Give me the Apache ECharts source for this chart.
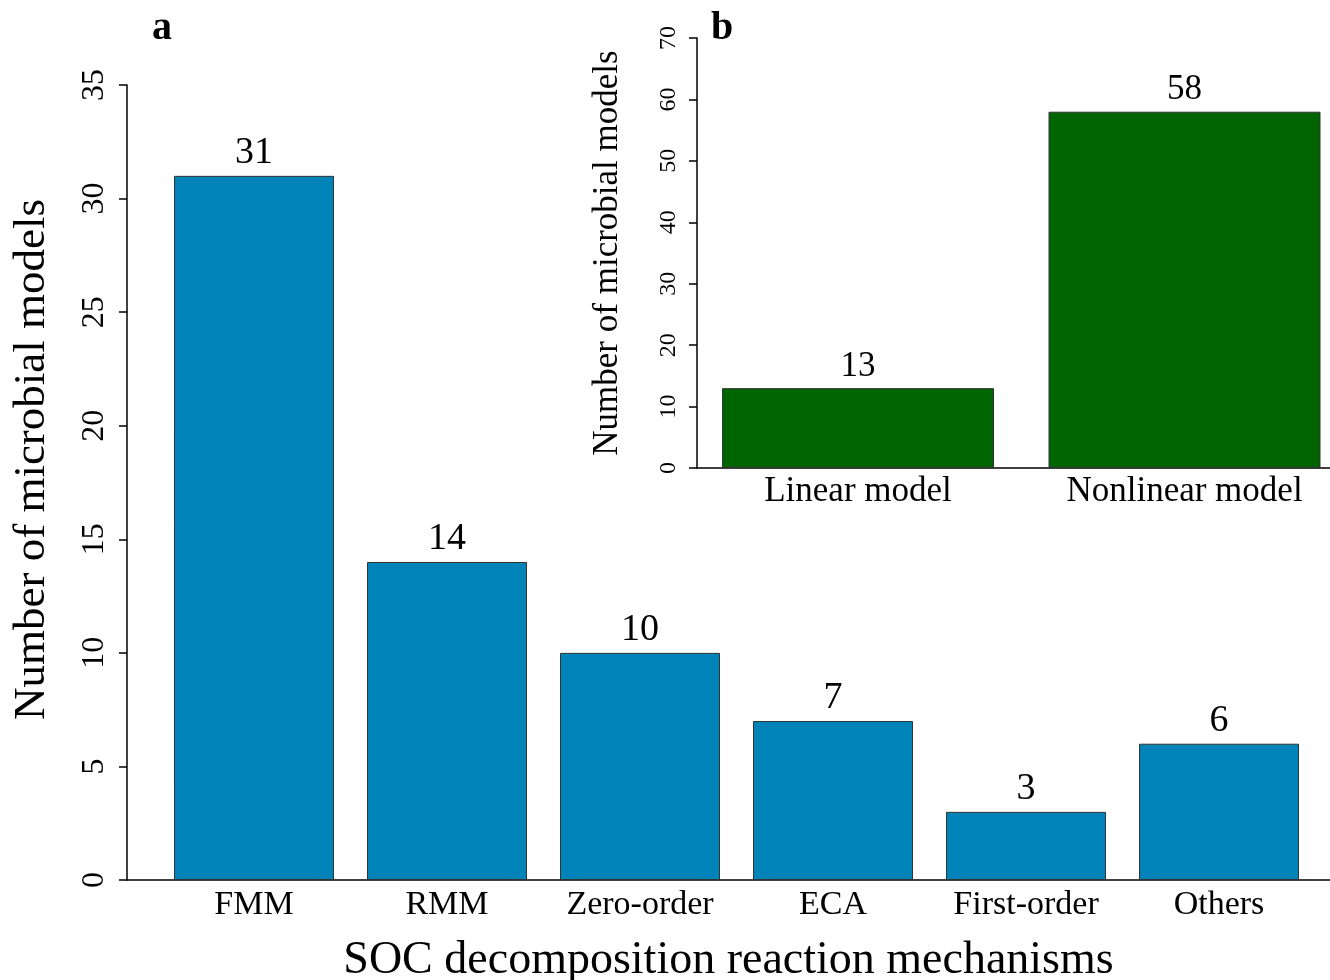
<!DOCTYPE html>
<html>
<head>
<meta charset="utf-8">
<script src="https://cdn.jsdelivr.net/npm/echarts@6/dist/echarts.min.js"></script>
<style>
html,body{margin:0;padding:0;background:#fff;overflow:hidden;}
#chart{width:1330px;height:980px;}
</style>
</head>
<body>
<div id="chart"></div>
<script>
// Panel a data
const mechCategories = ['FMM', 'RMM', 'Zero-order', 'ECA', 'First-order', 'Others'];
const mechCounts = [31, 14, 10, 7, 3, 6];
const mechTicks = [0, 5, 10, 15, 20, 25, 30, 35];
// Panel b data
const typeCategories = ['Linear model', 'Nonlinear model'];
const typeCounts = [13, 58];
const typeTicks = [0, 10, 20, 30, 40, 50, 60, 70];

const FONT = '"Liberation Serif", "Times New Roman", "DejaVu Serif", serif';
const BLUE = '#0083b8';
const GREEN = '#006400';

const chart = echarts.init(document.getElementById('chart'), null, {renderer: 'canvas', width: 1330, height: 980});

const mechData = mechCounts.map((v, i) => [i, v]);
const typeData = typeCounts.map((v, i) => [i, v]);

const option = {
  backgroundColor: '#fff',
  animation: false,
  textStyle: {fontFamily: FONT, color: '#000'},
  graphic: [
    {type: 'text', left: 152, top: 9, style: {text: 'a', font: 'bold 40px ' + FONT, fill: '#000'}},
    {type: 'text', left: 711, top: 9, style: {text: 'b', font: 'bold 40px ' + FONT, fill: '#000'}}
  ],
  grid: [
    {left: 127, right: 0, top: 85, height: 795, containLabel: false, outerBoundsMode: 'none'},
    {left: 697, right: 0, top: 38, height: 430, containLabel: false, outerBoundsMode: 'none'}
  ],
  xAxis: [
    {
      gridIndex: 0, type: 'value', min: -0.658, max: 5.575,
      splitLine: {show: false},
      axisLine: {show: true, onZero: false, lineStyle: {color: '#000', width: 1.5}},
      axisTick: {show: false},
      axisLabel: {
        customValues: mechCategories.map((c, i) => i),
        formatter: v => mechCategories[Math.round(v)] || '',
        fontSize: 34, color: '#000', fontFamily: FONT, margin: 8
      },
      name: 'SOC decomposition reaction mechanisms',
      nameLocation: 'middle', nameGap: 58,
      nameTextStyle: {fontSize: 46, color: '#000', fontFamily: FONT}
    },
    {
      gridIndex: 1, type: 'value', min: -0.4931, max: 1.4456,
      splitLine: {show: false},
      axisLine: {show: true, onZero: false, lineStyle: {color: '#000', width: 1.5}},
      axisTick: {show: false},
      axisLabel: {
        customValues: typeCategories.map((c, i) => i),
        formatter: v => typeCategories[Math.round(v)] || '',
        fontSize: 35, color: '#000', fontFamily: FONT, margin: 6
      }
    }
  ],
  yAxis: [
    {
      gridIndex: 0, type: 'value', min: 0, max: 35, interval: 5,
      splitLine: {show: false},
      axisLine: {show: true, onZero: false, lineStyle: {color: '#000', width: 1.5}},
      axisTick: {show: true, inside: false, length: 8, lineStyle: {color: '#000', width: 1.5}},
      axisLabel: {
        rotate: 90, fontSize: 32, color: '#000', fontFamily: FONT, margin: 16,
        formatter: v => String(v)
      },
      name: 'Number of microbial models',
      nameLocation: 'middle', nameGap: 72,
      nameTextStyle: {fontSize: 45, color: '#000', fontFamily: FONT, padding: [0, 0, 0, 46]}
    },
    {
      gridIndex: 1, type: 'value', min: 0, max: 70, interval: 10,
      splitLine: {show: false},
      axisLine: {show: true, onZero: false, lineStyle: {color: '#000', width: 1.5}},
      axisTick: {show: true, inside: false, length: 8, lineStyle: {color: '#000', width: 1.5}},
      axisLabel: {
        rotate: 90, fontSize: 24, color: '#000', fontFamily: FONT, margin: 16,
        formatter: v => String(v)
      },
      name: 'Number of microbial models',
      nameLocation: 'middle', nameGap: 72,
      nameTextStyle: {fontSize: 35, color: '#000', fontFamily: FONT}
    }
  ],
  series: [
    {
      type: 'bar', xAxisIndex: 0, yAxisIndex: 0, data: mechData, barWidth: 160,
      itemStyle: {color: BLUE, borderColor: '#333', borderWidth: 1},
      label: {show: true, position: 'top', distance: 4, fontSize: 38, color: '#000', fontFamily: FONT,
        formatter: p => String(p.value[1])}
    },
    {
      type: 'bar', xAxisIndex: 1, yAxisIndex: 1, data: typeData, barWidth: 272,
      itemStyle: {color: GREEN, borderColor: '#333', borderWidth: 1},
      label: {show: true, position: 'top', distance: 4, fontSize: 35, color: '#000', fontFamily: FONT,
        formatter: p => String(p.value[1])}
    }
  ]
};
chart.setOption(option);
</script>
</body>
</html>
